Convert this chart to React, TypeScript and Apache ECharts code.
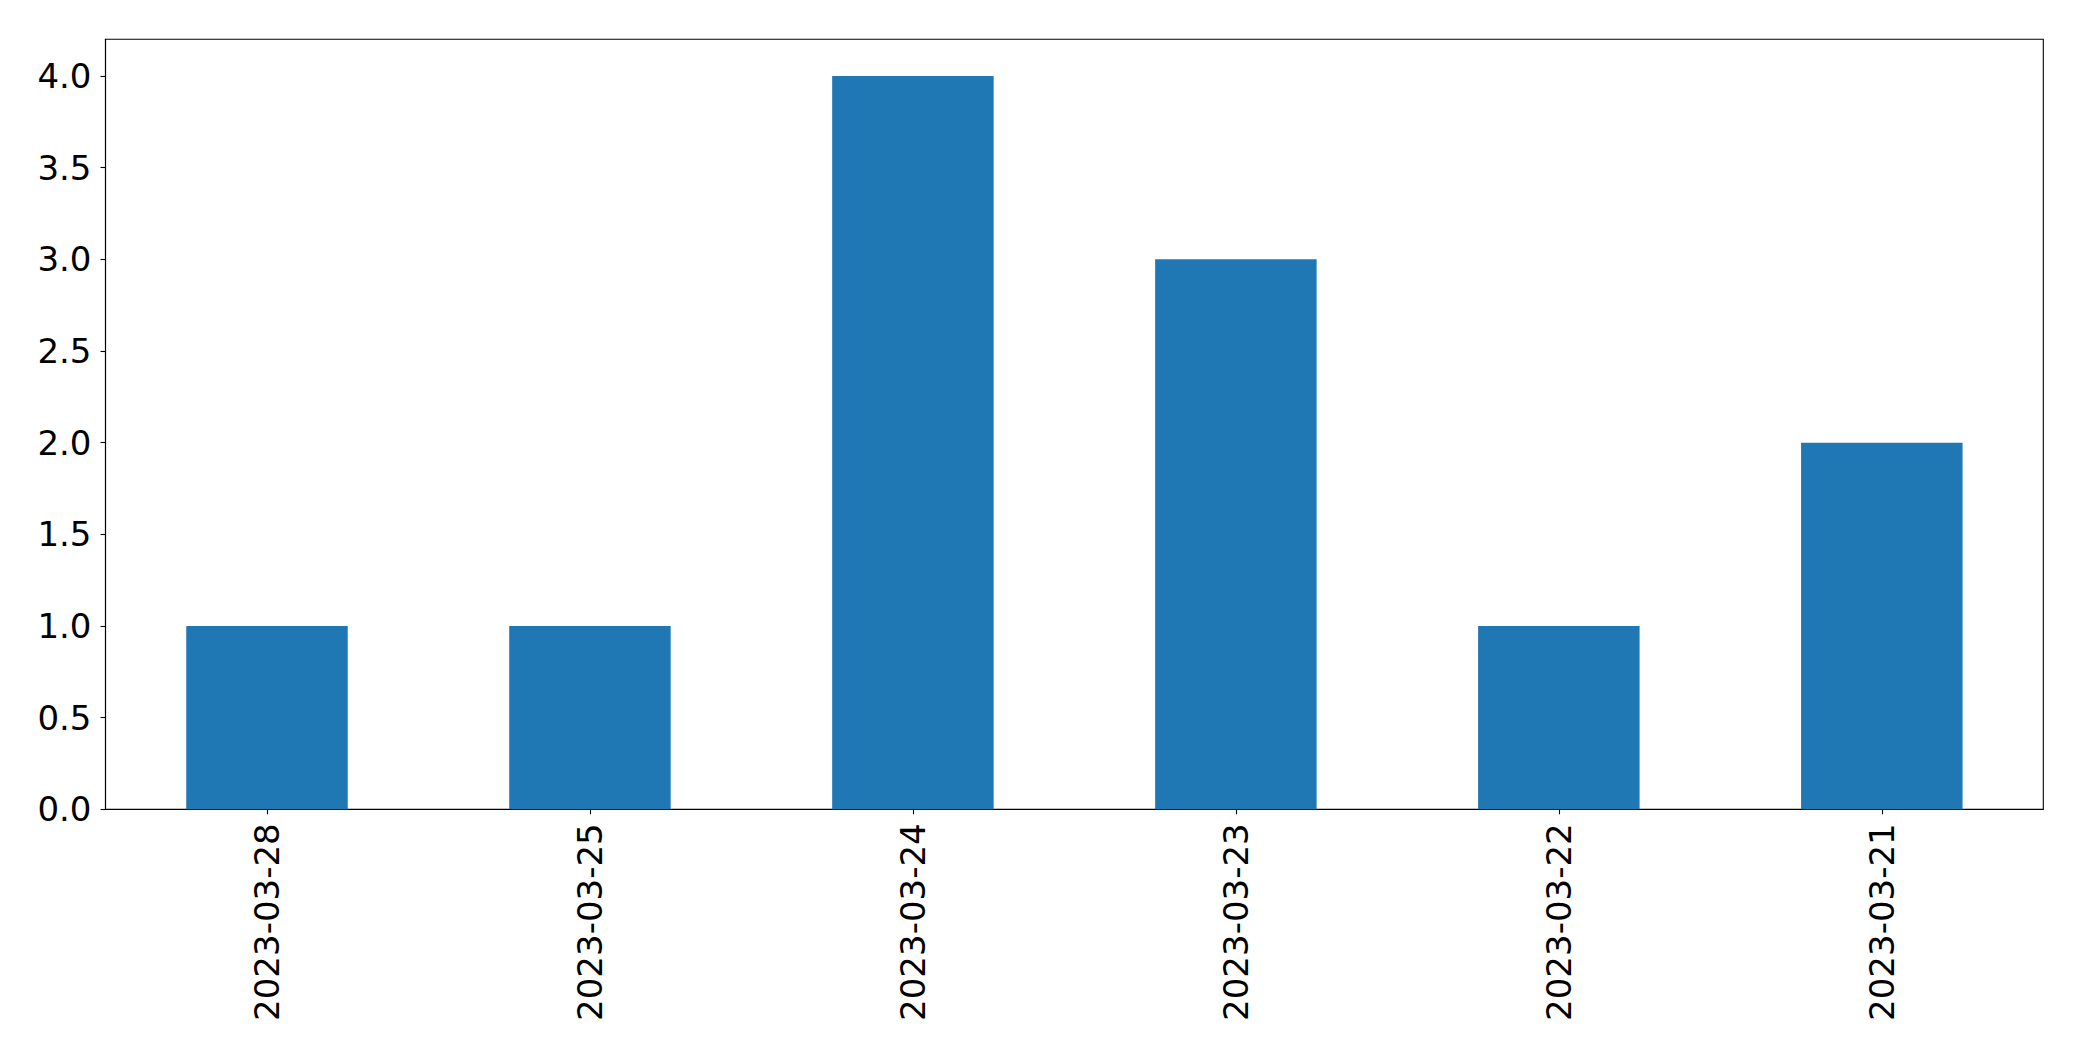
import React, { useEffect, useRef } from "react";
import * as echarts from "echarts";

const categories = ["2023-03-28", "2023-03-25", "2023-03-24", "2023-03-23", "2023-03-22", "2023-03-21"];
const values = [1, 1, 4, 3, 1, 2];
const yTicks = [0, 0.5, 1.0, 1.5, 2.0, 2.5, 3.0, 3.5, 4.0];

export default function App() {
  const ref = useRef<HTMLDivElement>(null);
  useEffect(() => {
    document.body.style.margin = "0";
    const chart = echarts.init(ref.current!, null, { renderer: "svg" });
    const font = "DejaVu Sans";
    chart.setOption({
      animation: false,
      backgroundColor: "#ffffff",
      grid: {
        left: 105.5,
        top: 39.3,
        right: 38.7,
        bottom: 251.7,
        show: true,
        borderColor: "#000000",
        borderWidth: 1.1,
        containLabel: false,
      },
      xAxis: {
        type: "category",
        data: categories,
        boundaryGap: true,
        axisLine: { show: true, lineStyle: { color: "#000", width: 1.1 } },
        axisTick: { show: true, alignWithLabel: true, length: 5, lineStyle: { color: "#000", width: 1.1 } },
        axisLabel: {
          rotate: 90,
          margin: 14,
          color: "#000",
          fontFamily: font,
          fontSize: 34,
          interval: 0,
        },
        splitLine: { show: false },
      },
      yAxis: {
        type: "value",
        min: 0,
        max: 4.2,
        axisLine: { show: true, lineStyle: { color: "#000", width: 1.1 } },
        axisTick: { show: true, length: 5, lineStyle: { color: "#000", width: 1.1 }, customValues: yTicks },
        axisLabel: {
          margin: 14,
          color: "#000",
          fontFamily: font,
          fontSize: 34,
          customValues: yTicks,
          formatter: (v: number) => v.toFixed(1),
        },
        splitLine: { show: false },
      },
      series: [
        {
          type: "bar",
          data: values,
          barWidth: "50%",
          itemStyle: { color: "#1f77b4" },
        },
      ],
    });
    return () => chart.dispose();
  }, []);
  return <div ref={ref} style={{ width: 2082, height: 1061 }} />;
}
